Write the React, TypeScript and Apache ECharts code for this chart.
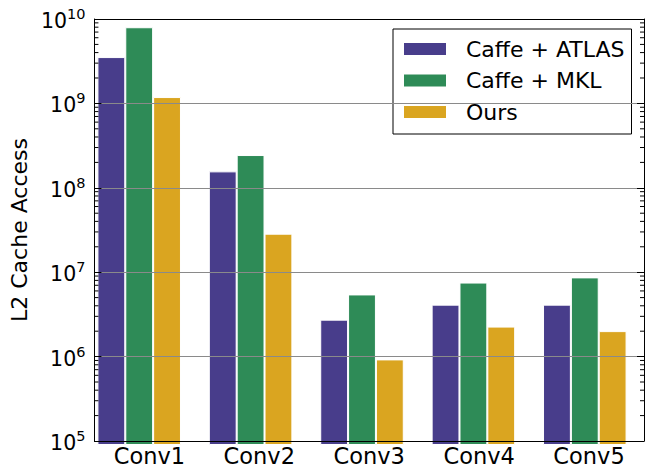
import React, { useEffect, useRef } from "react";
import * as echarts from "echarts";

const categories = ["Conv1", "Conv2", "Conv3", "Conv4", "Conv5"];
const seriesNames = ["Caffe + ATLAS", "Caffe + MKL", "Ours"];
const atlas = [3.57e9, 1.62e8, 2.93e6, 4.4e6, 4.4e6];
const mkl = [8.0e9, 2.52e8, 5.8e6, 8.0e6, 9.2e6];
const ours = [1.21e9, 3.0e7, 1.0e6, 2.43e6, 2.15e6];
const colors = ["#483D8B", "#2E8B57", "#DAA520"];
const yMin = 1e5;
const yMax = 1e10;
const minorMultipliers = [2, 3, 4, 5, 6, 7, 8, 9];
const decades = [1e5, 1e6, 1e7, 1e8, 1e9];

const FONT = "DejaVu Sans";

export default function App() {
  const ref = useRef<HTMLDivElement>(null);
  useEffect(() => {
    if (!ref.current) return;
    const chart = echarts.init(ref.current, undefined, { renderer: "svg" });
    const minorTicks: number[][] = [];
    decades.forEach((d) => minorMultipliers.forEach((m) => minorTicks.push([0, d * m])));
    const gridTop = 19;
    const gridBottom = 22.5;
    const logAxisBase = {
      type: "log",
      logBase: 10,
      min: yMin,
      max: yMax,
      splitNumber: 5,
    };
    const barData = [atlas, mkl, ours];
    chart.setOption({
      animation: false,
      textStyle: { fontFamily: FONT },
      grid: [
        { left: 83.5, right: 5.5, top: gridTop, bottom: gridBottom },
        { left: 87, right: 2, top: gridTop, bottom: gridBottom },
      ],
      legend: {
        data: seriesNames,
        orient: "vertical",
        left: 393,
        top: 29,
        padding: [9, 7, 11, 9],
        itemWidth: 44,
        itemHeight: 14,
        itemGap: 9.5,
        borderColor: "#000",
        borderWidth: 1,
        borderRadius: 0,
        icon: "rect",
        textStyle: {
          fontFamily: FONT,
          fontSize: 22,
          color: "#000",
          padding: [0, 0, 0, 14],
        },
      },
      xAxis: [
        {
          type: "category",
          gridIndex: 0,
          data: categories,
          show: false,
        },
        {
          type: "category",
          gridIndex: 1,
          data: categories,
          position: "bottom",
          axisLine: { lineStyle: { color: "#000", width: 1 } },
          axisTick: { inside: true, length: 4, alignWithLabel: true, lineStyle: { color: "#000" } },
          axisLabel: { fontFamily: FONT, fontSize: 22.5, color: "#000", margin: 3 },
          splitLine: { show: false },
          z: 10,
        },
        {
          type: "category",
          gridIndex: 1,
          data: categories,
          position: "top",
          axisLine: { lineStyle: { color: "#000", width: 1 } },
          axisTick: { inside: true, length: 4, alignWithLabel: true, lineStyle: { color: "#000" } },
          axisLabel: { show: false },
          splitLine: { show: false },
          z: 10,
        },
      ],
      yAxis: [
        { ...logAxisBase, gridIndex: 0, show: false, splitLine: { show: false } },
        {
          ...logAxisBase,
          gridIndex: 1,
          position: "left",
          name: "L2 Cache Access",
          nameLocation: "middle",
          nameGap: 57,
          nameTextStyle: { fontFamily: FONT, fontSize: 22, color: "#000" },
          axisLine: { show: true, lineStyle: { color: "#000", width: 1 } },
          axisTick: { show: true, inside: true, length: 7, lineStyle: { color: "#000" } },
          splitLine: { show: true, lineStyle: { color: "#8a8a8a", width: 1 } },
          axisLabel: {
            margin: 9,
            color: "#000",
            formatter: (v: number) => {
              const e = Math.round(Math.log10(v));
              return `{b|10}{s|${e}}`;
            },
            rich: {
              b: { fontFamily: FONT, fontSize: 20.5, color: "#000", verticalAlign: "bottom" },
              s: { fontFamily: FONT, fontSize: 14.5, color: "#000", verticalAlign: "bottom", padding: [0, 0, 10, 0] },
            },
          },
          z: 10,
        },
        {
          ...logAxisBase,
          gridIndex: 1,
          position: "right",
          axisLine: { show: true, lineStyle: { color: "#000", width: 1 } },
          axisTick: { show: true, inside: true, length: 7, lineStyle: { color: "#000" } },
          axisLabel: { show: false },
          splitLine: { show: false },
          z: 10,
        },
      ],
      series: [
        ...seriesNames.map((name, i) => ({
          name,
          type: "bar",
          xAxisIndex: 0,
          yAxisIndex: 0,
          data: barData[i],
          barWidth: "25%",
          barGap: "0%",
          itemStyle: { color: colors[i], borderColor: "#fff", borderWidth: 1 },
          z: 2,
        })),
        {
          name: "minor",
          type: "custom",
          xAxisIndex: 1,
          yAxisIndex: 1,
          silent: true,
          z: 11,
          data: minorTicks,
          renderItem: (params: any, api: any) => {
            const y = api.coord([0, api.value(1)])[1];
            const cs = params.coordSys;
            return {
              type: "group",
              children: [
                { type: "line", shape: { x1: cs.x, y1: y, x2: cs.x + 4, y2: y }, style: { stroke: "#000", lineWidth: 1 } },
                { type: "line", shape: { x1: cs.x + cs.width, y1: y, x2: cs.x + cs.width - 4, y2: y }, style: { stroke: "#000", lineWidth: 1 } },
              ],
            };
          },
        },
      ],
    });
    return () => chart.dispose();
  }, []);
  return <div ref={ref} style={{ width: 646, height: 467, position: "fixed", left: 0, top: 0, background: "#fff" }} />;
}
